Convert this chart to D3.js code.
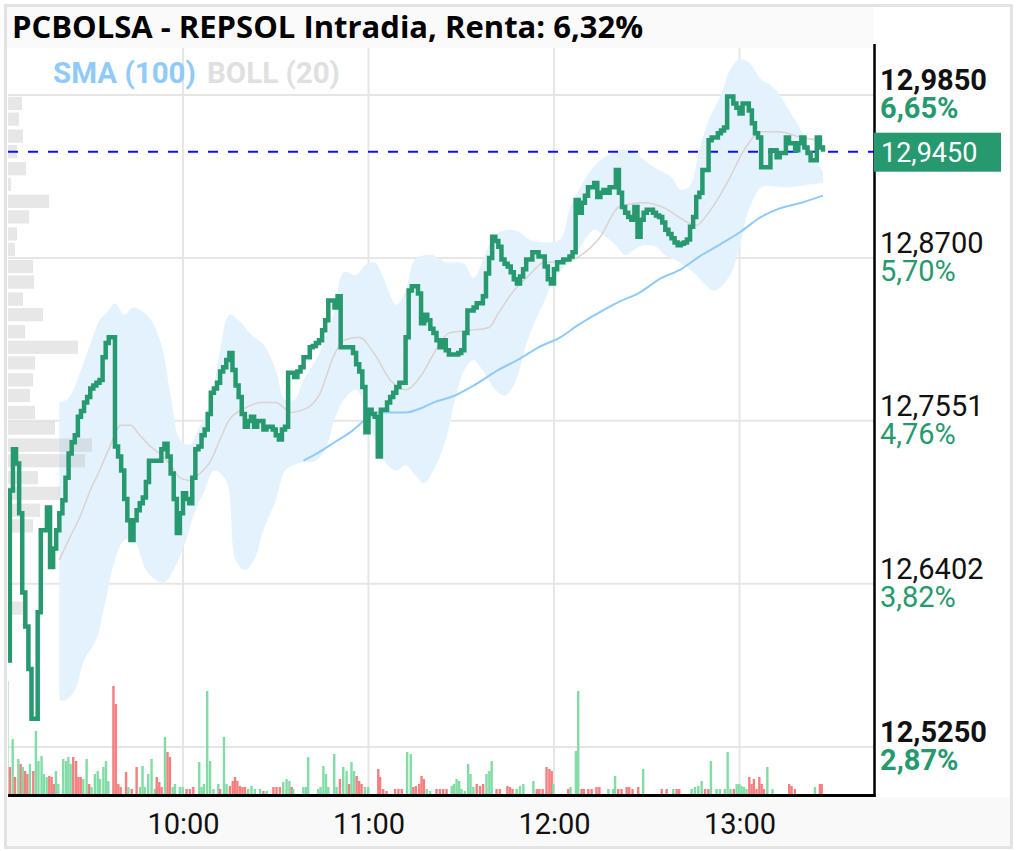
<!DOCTYPE html>
<html>
<head>
<meta charset="utf-8">
<script src="https://cdn.jsdelivr.net/npm/d3@7"></script>
<style>
  body { margin: 0; background: #fff; }
  text { font-family: Roboto, sans-serif; }
</style>
</head>
<body>
<div id="chart"></div>
<script>
// Precio intradia REPSOL (cada minuto)
var priceTimes = [
  "9:03","9:04","9:05","9:06","9:07","9:08","9:09","9:10","9:11","9:12",
  "9:13","9:14","9:15","9:16","9:17","9:18","9:19","9:20","9:21","9:22",
  "9:23","9:24","9:25","9:26","9:27","9:28","9:29","9:30","9:31","9:32",
  "9:33","9:34","9:35","9:36","9:37","9:38","9:39","9:40","9:41","9:42",
  "9:43","9:44","9:45","9:46","9:47","9:48","9:49","9:50","9:51","9:52",
  "9:53","9:54","9:55","9:56","9:57","9:58","9:59","10:00","10:01","10:02",
  "10:03","10:04","10:05","10:06","10:07","10:08","10:09","10:10","10:11","10:12",
  "10:13","10:14","10:15","10:16","10:17","10:18","10:19","10:20","10:21","10:22",
  "10:23","10:24","10:25","10:26","10:27","10:28","10:29","10:30","10:31","10:32",
  "10:33","10:34","10:35","10:36","10:37","10:38","10:39","10:40","10:41","10:42",
  "10:43","10:44","10:45","10:46","10:47","10:48","10:49","10:50","10:51","10:52",
  "10:53","10:54","10:55","10:56","10:57","10:58","10:59","11:00","11:01","11:02",
  "11:03","11:04","11:05","11:06","11:07","11:08","11:09","11:10","11:11","11:12",
  "11:13","11:14","11:15","11:16","11:17","11:18","11:19","11:20","11:21","11:22",
  "11:23","11:24","11:25","11:26","11:27","11:28","11:29","11:30","11:31","11:32",
  "11:33","11:34","11:35","11:36","11:37","11:38","11:39","11:40","11:41","11:42",
  "11:43","11:44","11:45","11:46","11:47","11:48","11:49","11:50","11:51","11:52",
  "11:53","11:54","11:55","11:56","11:57","11:58","11:59","12:00","12:01","12:02",
  "12:03","12:04","12:05","12:06","12:07","12:08","12:09","12:10","12:11","12:12",
  "12:13","12:14","12:15","12:16","12:17","12:18","12:19","12:20","12:21","12:22",
  "12:23","12:24","12:25","12:26","12:27","12:28","12:29","12:30","12:31","12:32",
  "12:33","12:34","12:35","12:36","12:37","12:38","12:39","12:40","12:41","12:42",
  "12:43","12:44","12:45","12:46","12:47","12:48","12:49","12:50","12:51","12:52",
  "12:53","12:54","12:55","12:56","12:57","12:58","12:59","13:00","13:01","13:02",
  "13:03","13:04","13:05","13:06","13:07","13:08","13:09","13:10","13:11","13:12",
  "13:13","13:14","13:15","13:16","13:17","13:18","13:19","13:20","13:21","13:22",
  "13:23","13:24","13:25","13:26","13:27"
];
var prices = [
  12.586,12.706,12.735,12.725,12.690,12.634,12.610,12.580,12.545,12.545,
  12.620,12.678,12.678,12.694,12.652,12.665,12.678,12.690,12.699,12.715,
  12.732,12.740,12.745,12.758,12.762,12.768,12.772,12.778,12.780,12.782,
  12.784,12.800,12.810,12.814,12.814,12.737,12.730,12.720,12.700,12.685,
  12.671,12.685,12.692,12.697,12.701,12.712,12.727,12.727,12.727,12.727,
  12.735,12.739,12.730,12.718,12.700,12.676,12.690,12.704,12.700,12.697,
  12.715,12.735,12.737,12.745,12.749,12.760,12.775,12.778,12.782,12.790,
  12.793,12.798,12.803,12.791,12.780,12.772,12.760,12.751,12.755,12.758,
  12.751,12.755,12.755,12.749,12.751,12.751,12.749,12.745,12.742,12.749,
  12.751,12.789,12.789,12.786,12.790,12.793,12.800,12.800,12.807,12.808,
  12.810,12.812,12.819,12.826,12.840,12.840,12.835,12.843,12.807,12.807,
  12.807,12.807,12.803,12.795,12.790,12.779,12.747,12.763,12.760,12.758,
  12.730,12.763,12.763,12.768,12.772,12.775,12.779,12.782,12.782,12.814,
  12.847,12.850,12.850,12.845,12.824,12.830,12.826,12.820,12.817,12.812,
  12.807,12.812,12.805,12.802,12.802,12.802,12.803,12.805,12.817,12.833,
  12.833,12.835,12.838,12.838,12.843,12.859,12.870,12.885,12.882,12.878,
  12.869,12.866,12.864,12.860,12.855,12.852,12.857,12.862,12.869,12.869,
  12.874,12.874,12.871,12.871,12.864,12.855,12.852,12.862,12.867,12.867,
  12.869,12.869,12.871,12.874,12.911,12.902,12.909,12.914,12.920,12.920,
  12.923,12.913,12.916,12.918,12.916,12.920,12.920,12.932,12.916,12.906,
  12.902,12.899,12.897,12.906,12.885,12.897,12.902,12.904,12.904,12.902,
  12.900,12.899,12.895,12.890,12.887,12.884,12.881,12.879,12.880,12.881,
  12.883,12.892,12.899,12.913,12.916,12.932,12.932,12.953,12.955,12.955,
  12.958,12.960,12.962,12.984,12.984,12.979,12.976,12.972,12.979,12.979,
  12.974,12.965,12.958,12.955,12.934,12.934,12.934,12.946,12.946,12.941,
  12.944,12.944,12.955,12.951,12.951,12.946,12.951,12.955,12.948,12.944,
  12.939,12.939,12.955,12.948,12.945
];
var lastPrice = 12.945;

// BOLL (20): banda superior, inferior y media
var bollUpTimes = [
  "9:20","9:23","9:27","9:30","9:33","9:36","9:38","9:41","9:44","9:49",
  "9:53","9:56","9:59","10:02","10:05","10:09","10:12","10:15","10:18","10:22",
  "10:26","10:30","10:33","10:36","10:39","10:44","10:49","10:52","10:56","10:59",
  "11:02","11:05","11:09","11:12","11:15","11:18","11:21","11:25","11:28","11:31",
  "11:34","11:39","11:42","11:46","11:49","11:52","11:57","12:02","12:05","12:08",
  "12:12","12:15","12:18","12:21","12:25","12:28","12:31","12:34","12:38","12:41",
  "12:44","12:47","12:50","12:54","12:57","13:00","13:03","13:07","13:10","13:13",
  "13:16","13:20","13:23","13:27"
];
var bollUp = [
  12.768,12.771,12.791,12.809,12.826,12.833,12.838,12.830,12.835,12.828,
  12.809,12.773,12.742,12.738,12.749,12.770,12.805,12.830,12.826,12.816,
  12.809,12.791,12.770,12.770,12.784,12.802,12.833,12.860,12.858,12.865,
  12.867,12.855,12.837,12.847,12.869,12.872,12.872,12.867,12.867,12.866,
  12.856,12.879,12.888,12.890,12.888,12.883,12.881,12.883,12.904,12.918,
  12.932,12.939,12.943,12.946,12.946,12.941,12.936,12.932,12.927,12.918,
  12.921,12.946,12.967,12.985,13.003,13.010,13.008,12.996,12.992,12.985,
  12.974,12.960,12.946,12.931
];
var bollLowTimes = [
  "9:20","9:22","9:25","9:28","9:32","9:35","9:38","9:41","9:44","9:48",
  "9:51","9:54","9:57","10:01","10:04","10:07","10:10","10:14","10:17","10:20",
  "10:23","10:26","10:30","10:33","10:36","10:39","10:43","10:46","10:49","10:52",
  "10:56","10:59","11:02","11:05","11:09","11:12","11:15","11:18","11:21","11:25",
  "11:28","11:31","11:34","11:38","11:41","11:44","11:47","11:51","11:54","11:57",
  "12:00","12:04","12:07","12:10","12:13","12:16","12:20","12:23","12:26","12:29",
  "12:33","12:36","12:39","12:42","12:46","12:49","12:52","12:57","13:00","13:03",
  "13:07","13:10","13:13","13:16","13:20","13:23","13:27"
];
var bollLow = [
  12.558,12.558,12.565,12.586,12.601,12.629,12.657,12.671,12.671,12.650,
  12.643,12.641,12.650,12.671,12.692,12.706,12.720,12.713,12.657,12.650,
  12.657,12.678,12.699,12.720,12.724,12.726,12.727,12.735,12.756,12.770,
  12.777,12.763,12.742,12.727,12.720,12.724,12.717,12.711,12.720,12.742,
  12.770,12.791,12.798,12.787,12.777,12.773,12.780,12.809,12.826,12.840,
  12.855,12.865,12.872,12.883,12.890,12.886,12.879,12.872,12.876,12.879,
  12.878,12.872,12.869,12.865,12.858,12.851,12.847,12.858,12.878,12.904,
  12.920,12.921,12.920,12.920,12.921,12.922,12.923
];
var bollMidTimes = [
  "9:20","9:23","9:27","9:30","9:33","9:36","9:40","9:43","9:46","9:49",
  "9:53","9:56","9:59","10:02","10:05","10:09","10:12","10:15","10:20","10:25",
  "10:30","10:35","10:39","10:44","10:49","10:52","10:57","11:02","11:07","11:12",
  "11:17","11:21","11:26","11:33","11:39","11:42","11:47","11:52","11:57","12:02",
  "12:08","12:15","12:21","12:29","12:36","12:41","12:46","12:50","12:56","13:02",
  "13:07","13:13","13:20","13:27"
];
var bollMid = [
  12.657,12.671,12.689,12.706,12.720,12.735,12.752,12.752,12.745,12.738,
  12.731,12.724,12.715,12.713,12.717,12.727,12.742,12.756,12.764,12.768,
  12.768,12.761,12.763,12.773,12.802,12.812,12.814,12.802,12.784,12.777,
  12.787,12.802,12.817,12.819,12.821,12.831,12.847,12.858,12.867,12.867,
  12.871,12.885,12.906,12.909,12.905,12.898,12.893,12.902,12.923,12.948,
  12.959,12.959,12.955,12.953
];

// SMA (100)
var smaTimes = [
  "10:39","10:44","10:49","10:54","10:59","11:02","11:07","11:12","11:17","11:21",
  "11:28","11:34","11:42","11:49","11:55","12:02","12:08","12:15","12:21","12:28",
  "12:34","12:41","12:47","12:54","13:00","13:07","13:13","13:20","13:27"
];
var sma = [
  12.727,12.733,12.740,12.747,12.756,12.761,12.761,12.761,12.764,12.768,
  12.773,12.780,12.791,12.799,12.807,12.814,12.823,12.832,12.839,12.846,
  12.855,12.862,12.871,12.880,12.888,12.899,12.905,12.909,12.914
];

// Volumen por operacion (miles), G = sube, R = baja
var volTimes = [
  "9:03:10","9:04:00","9:04:55","9:05:40","9:06:45","9:07:30","9:08:10","9:08:55","9:09:40","9:10:30",
  "9:11:35","9:12:25","9:13:15","9:14:15","9:15:00","9:15:55","9:16:45","9:17:30","9:18:15","9:18:55",
  "9:19:40","9:21:15","9:22:10","9:22:55","9:23:40","9:24:30","9:25:25","9:26:10","9:26:55","9:27:45",
  "9:28:50","9:29:40","9:30:25","9:31:30","9:32:25","9:33:10","9:34:15","9:35:05","9:35:50","9:37:30",
  "9:38:15","9:39:05","9:39:50","9:41:35","9:42:20","9:43:25","9:45:00","9:46:05","9:46:55","9:47:40",
  "9:48:45","9:49:50","9:50:55","9:51:30","9:52:20","9:53:05","9:54:10","9:55:00","9:55:45","9:56:40",
  "9:57:25","9:59:00","9:59:55","10:01:10","10:02:15","10:03:20","10:05:15","10:06:00","10:06:45","10:07:50",
  "10:08:45","10:09:50","10:11:25","10:12:00","10:13:15","10:14:05","10:15:10","10:16:05","10:16:50","10:17:35",
  "10:18:25","10:19:15","10:20:05","10:21:05","10:22:10","10:23:15","10:24:55","10:26:00","10:27:05","10:29:15",
  "10:30:15","10:31:20","10:32:25","10:33:30","10:34:25","10:35:10","10:35:40","10:38:55","10:39:45","10:40:30",
  "10:43:45","10:44:30","10:45:25","10:46:15","10:47:00","10:48:55","10:49:40","10:50:45","10:51:50","10:52:55",
  "10:53:45","10:54:30","10:55:20","10:56:10","10:57:00","10:57:45","10:58:50","10:59:55","11:03:10","11:03:45",
  "11:04:45","11:05:50","11:08:35","11:09:40","11:10:45","11:12:30","11:13:40","11:14:30","11:15:20","11:16:25",
  "11:17:10","11:17:55","11:18:50","11:19:55","11:22:00","11:23:05","11:24:10","11:25:15","11:26:55","11:27:40",
  "11:28:30","11:29:20","11:30:05","11:31:10","11:32:15","11:33:00","11:33:55","11:35:00","11:36:05","11:37:05",
  "11:38:10","11:39:05","11:39:50","11:41:25",
  "11:42:30","11:44:55","11:45:45","11:46:35","11:47:55","11:49:00","11:50:05","11:53:20","11:54:25","11:55:15",
  "11:56:20","11:57:35","11:58:30","11:59:15","11:59:45","12:04:35","12:05:20","12:07:05","12:07:50","12:08:55",
  "12:09:40","12:11:05","12:12:10","12:13:45","12:14:40","12:17:35","12:19:10","12:19:45","12:20:45","12:21:50",
  "12:23:30","12:24:20","12:25:25","12:27:15","12:28:50","12:34:50","12:36:25","12:38:35","12:39:40","12:40:30",
  "12:44:30","12:45:35","12:46:40","12:47:45","12:48:50","12:49:55","12:50:45","12:52:35","12:53:40","12:55:15",
  "12:56:10","12:57:05","12:58:10","12:59:05","12:59:55","13:00:40","13:01:25","13:02:15","13:03:10","13:03:55",
  "13:04:40","13:05:30","13:06:25","13:07:10","13:07:55","13:09:00","13:10:40","13:16:05","13:16:50","13:17:55",
  "13:24:25","13:26:00","13:26:35"
];
var volumes = [
  113,27,55,17,35,30,27,23,20,30,
  23,63,33,38,20,17,18,17,10,23,
  10,35,33,37,30,37,33,17,17,15,
  35,10,7,20,23,15,27,33,13,108,
  90,10,7,22,7,5,27,7,28,7,
  20,35,5,17,12,7,57,42,37,7,
  10,7,7,5,5,7,32,7,10,103,
  33,5,10,5,57,10,8,13,17,13,
  8,7,7,5,8,5,5,3,3,7,
  7,7,12,15,13,7,5,7,7,37,
  5,7,28,20,7,40,7,15,27,23,
  10,32,23,18,13,10,7,7,25,17,
  5,3,5,5,5,42,40,7,8,10,
  18,15,5,3,5,5,5,5,8,10,
  15,13,5,3,30,20,7,10,8,10,
  20,23,33,5,
  5,8,7,5,5,8,10,13,5,5,
  5,27,25,23,10,5,7,43,103,5,
  5,5,5,7,7,5,5,18,5,5,
  7,7,5,7,25,5,5,5,5,5,
  5,7,8,13,5,5,33,5,5,5,
  42,5,5,10,10,8,7,5,17,10,
  15,5,17,10,5,27,5,10,8,5,
  7,10,10
];
var volSide = [
  "G","R","G","R","G","R","G","R","R","G",
  "R","G","G","G","G","G","R","R","R","G",
  "G","G","G","G","G","R","R","R","R","G",
  "G","R","G","G","G","G","G","G","G","R",
  "R","R","R","R","G","R","R","G","G","G",
  "G","G","G","R","R","R","G","R","R","G",
  "G","G","G","R","R","R","G","G","G","G",
  "G","G","G","R","G","G","R","R","R","R",
  "R","R","R","G","G","G","G","R","G","R",
  "R","R","G","G","G","R","G","G","G","G",
  "G","G","G","G","G","G","G","R","G","G",
  "R","G","G","R","R","R","G","G","R","R",
  "R","R","R","R","R","G","G","R","R","R",
  "R","R","G","G","R","R","R","R","G","G",
  "G","G","G","G","G","G","G","R","R","R",
  "G","G","G","R",
  "R","R","R","R","G","G","G","G","R","R",
  "R","R","R","R","G","R","G","G","G","R",
  "R","R","R","R","R","G","G","G","R","R",
  "R","R","R","R","G","R","R","G","R","R",
  "G","G","G","G","R","R","G","G","G","G",
  "G","G","R","G","G","G","G","G","R","R",
  "R","R","R","R","R","G","G","R","R","R",
  "G","R","R"
];

// Perfil de volumen por nivel de precio
var profilePrices = [
  12.979,12.968,12.956,12.945,12.933,12.922,12.910,12.899,12.887,12.876,
  12.864,12.853,12.841,12.830,12.818,12.807,12.796,12.784,12.773,12.761,
  12.750,12.738,12.727,12.715,12.704,12.692,12.681,12.623
];
var profileVolumes = [
  14,11,15,9,18,3,41,21,9,7,
  25,26,15,35,17,70,27,25,22,27,
  47,84,77,30,52,32,25,15
];
var profileStep = 0.0115;

// Ejes
var yTicks = [12.985, 12.87, 12.7551, 12.6402, 12.525];
var yTickLabels = ["12,9850", "12,8700", "12,7551", "12,6402", "12,5250"];
var pctLabels = ["6,65%", "5,70%", "4,76%", "3,82%", "2,87%"];
var xTicks = ["10:00", "11:00", "12:00", "13:00"];

var titleText = "PCBOLSA - REPSOL Intradia, Renta: 6,32%";

function toMinutes(t) {
    var p = t.split(':').map(Number);
    return p[0] * 60 + p[1] + (p[2] || 0) / 60;
}

var width = 1017;
var height = 851;
var plot = { left: 8, right: 874, top: 48, bottom: 796 };

var green = "#27996e";

var svg = d3.select('#chart')
    .append('svg')
    .attr('width', width)
    .attr('height', height);

var x = d3.scaleLinear()
    .domain([toMinutes("9:03:24"), toMinutes("13:43:30")])
    .range([plot.left, plot.right]);

var y = d3.scaleLinear()
    .domain([12.525, 12.985])
    .range([747, 95]);

var yVol = d3.scaleLinear()
    .domain([0, 120])
    .range([794, 674]);

var xProfile = d3.scaleLinear()
    .domain([0, d3.max(profileVolumes)])
    .range([0, 84]);

// marco y fondos
svg.append('rect')
    .attr('x', 5.5).attr('y', 5.5)
    .attr('width', 1006).attr('height', 842)
    .attr('fill', '#fff')
    .attr('stroke', '#e3e3e3')
    .attr('stroke-width', 3);

svg.append('rect')
    .attr('x', 7).attr('y', 7)
    .attr('width', plot.right - 7).attr('height', plot.top - 7)
    .attr('fill', '#fafafa');

svg.append('rect')
    .attr('x', 7).attr('y', plot.bottom + 1)
    .attr('width', 1003).attr('height', 49)
    .attr('fill', '#f9f9f9');

svg.append('clipPath')
    .attr('id', 'plotClip')
    .append('rect')
    .attr('x', plot.left).attr('y', plot.top)
    .attr('width', plot.right - plot.left)
    .attr('height', plot.bottom - plot.top);

var g = svg.append('g').attr('clip-path', 'url(#plotClip)');

// rejilla
g.selectAll('.hgrid')
    .data(yTicks)
    .enter()
    .append('line')
    .attr('x1', plot.left).attr('x2', plot.right)
    .attr('y1', d => y(d)).attr('y2', d => y(d))
    .attr('stroke', '#e6e6e6')
    .attr('stroke-width', 2);

g.selectAll('.vgrid')
    .data(xTicks)
    .enter()
    .append('line')
    .attr('x1', d => x(toMinutes(d))).attr('x2', d => x(toMinutes(d)))
    .attr('y1', plot.top).attr('y2', plot.bottom)
    .attr('stroke', '#e6e6e6')
    .attr('stroke-width', 2);

// volumen
var volData = volTimes.map(function (t, i) {
    return { t: toMinutes(t), v: volumes[i], side: volSide[i] };
});

g.selectAll('.vol')
    .data(volData)
    .enter()
    .append('rect')
    .attr('x', d => x(d.t) - 1.2)
    .attr('y', d => yVol(d.v))
    .attr('width', 2.4)
    .attr('height', d => yVol(0) - yVol(d.v))
    .attr('fill', d => d.side == "G" ? "#82dca6" : "#f57f7f");

// banda de Bollinger
var upPts = bollUpTimes.map((t, i) => [x(toMinutes(t)), y(bollUp[i])]);
var lowPts = bollLowTimes.map((t, i) => [x(toMinutes(t)), y(bollLow[i])]).reverse();

var bandLine = d3.line().curve(d3.curveCatmullRom.alpha(0.5));

g.append('path')
    .attr('d', bandLine(upPts) + 'L' + bandLine(lowPts).slice(1) + 'Z')
    .attr('fill', '#e3f2fd');

g.append('path')
    .datum(bollMidTimes.map((t, i) => [toMinutes(t), bollMid[i]]))
    .attr('d', d3.line()
        .x(d => x(d[0]))
        .y(d => y(d[1]))
        .curve(d3.curveMonotoneX))
    .attr('fill', 'none')
    .attr('stroke', '#dcd2ce')
    .attr('stroke-width', 1.5);

// SMA (100)
g.append('path')
    .datum(smaTimes.map((t, i) => [toMinutes(t), sma[i]]))
    .attr('d', d3.line()
        .x(d => x(d[0]))
        .y(d => y(d[1]))
        .curve(d3.curveMonotoneX))
    .attr('fill', 'none')
    .attr('stroke', '#90caf9')
    .attr('stroke-width', 2);

// perfil de volumen
g.selectAll('.profile')
    .data(profilePrices)
    .enter()
    .append('rect')
    .attr('x', plot.left)
    .attr('y', d => y(d + profileStep / 2) + 1.5)
    .attr('width', (d, i) => xProfile(profileVolumes[i]))
    .attr('height', d => y(d - profileStep / 2) - y(d + profileStep / 2) - 3)
    .attr('fill', 'rgba(180,180,180,0.32)');

// ultimo precio
g.append('line')
    .attr('x1', plot.left).attr('x2', plot.right)
    .attr('y1', y(lastPrice)).attr('y2', y(lastPrice))
    .attr('stroke', '#1010ee')
    .attr('stroke-width', 2)
    .attr('stroke-dasharray', '10,10');

// precio
g.append('path')
    .datum(priceTimes.map((t, i) => [toMinutes(t), prices[i]]))
    .attr('d', d3.line()
        .x(d => x(d[0]))
        .y(d => y(d[1]))
        .curve(d3.curveStepAfter))
    .attr('fill', 'none')
    .attr('stroke', green)
    .attr('stroke-width', 4.5);

// ejes
svg.append('line')
    .attr('x1', plot.right + 0.5).attr('x2', plot.right + 0.5)
    .attr('y1', 44).attr('y2', plot.bottom + 1)
    .attr('stroke', '#000')
    .attr('stroke-width', 2.5);

svg.append('line')
    .attr('x1', plot.left).attr('x2', plot.right + 1.5)
    .attr('y1', plot.bottom - 0.5).attr('y2', plot.bottom - 0.5)
    .attr('stroke', '#000')
    .attr('stroke-width', 3);

var xAxis = d3.axisBottom(x)
    .tickValues(xTicks.map(toMinutes))
    .tickFormat((d, i) => xTicks[i])
    .tickSize(0);

var xAxisG = svg.append('g')
    .attr('transform', 'translate(0,' + plot.bottom + ')')
    .call(xAxis);
xAxisG.select('.domain').remove();
xAxisG.selectAll('text')
    .attr('y', 38)
    .attr('dy', 0)
    .style('font-family', 'Roboto, sans-serif')
    .style('font-size', '29px')
    .attr('fill', '#111');

var yLab = svg.selectAll('.ylab')
    .data(yTicks)
    .enter()
    .append('g');

yLab.append('text')
    .attr('x', 880)
    .attr('y', d => y(d) - 5)
    .text((d, i) => yTickLabels[i])
    .style('font-size', '29px')
    .style('font-weight', (d, i) => (i == 0 || i == yTicks.length - 1) ? 'bold' : 'normal')
    .attr('fill', '#111');

yLab.append('text')
    .attr('x', 880)
    .attr('y', d => y(d) + 23)
    .text((d, i) => pctLabels[i])
    .style('font-size', '29px')
    .style('font-weight', (d, i) => (i == 0 || i == yTicks.length - 1) ? 'bold' : 'normal')
    .attr('fill', green);

// etiqueta precio actual
svg.append('rect')
    .attr('x', plot.right).attr('y', y(lastPrice) - 19)
    .attr('width', 127).attr('height', 39)
    .attr('fill', green);

svg.append('text')
    .attr('x', 881)
    .attr('y', y(lastPrice) + 10)
    .text(d3.format('.4f')(lastPrice).replace('.', ','))
    .style('font-size', '27px')
    .attr('fill', '#fff');

// titulo y leyenda
svg.append('text')
    .attr('x', 12)
    .attr('y', 38)
    .text(titleText)
    .style('font-family', '"Open Sans", sans-serif')
    .style('font-weight', 'bold')
    .style('font-size', '31px')
    .attr('fill', '#000');

svg.append('text')
    .attr('x', 53)
    .attr('y', 83)
    .text("SMA (100)")
    .style('font-weight', 'bold')
    .style('font-size', '29.5px')
    .attr('fill', '#90caf9');

svg.append('text')
    .attr('x', 207)
    .attr('y', 83)
    .text("BOLL (20)")
    .style('font-weight', 'bold')
    .style('font-size', '29.5px')
    .attr('fill', '#e0e0e0');
</script>
</body>
</html>
